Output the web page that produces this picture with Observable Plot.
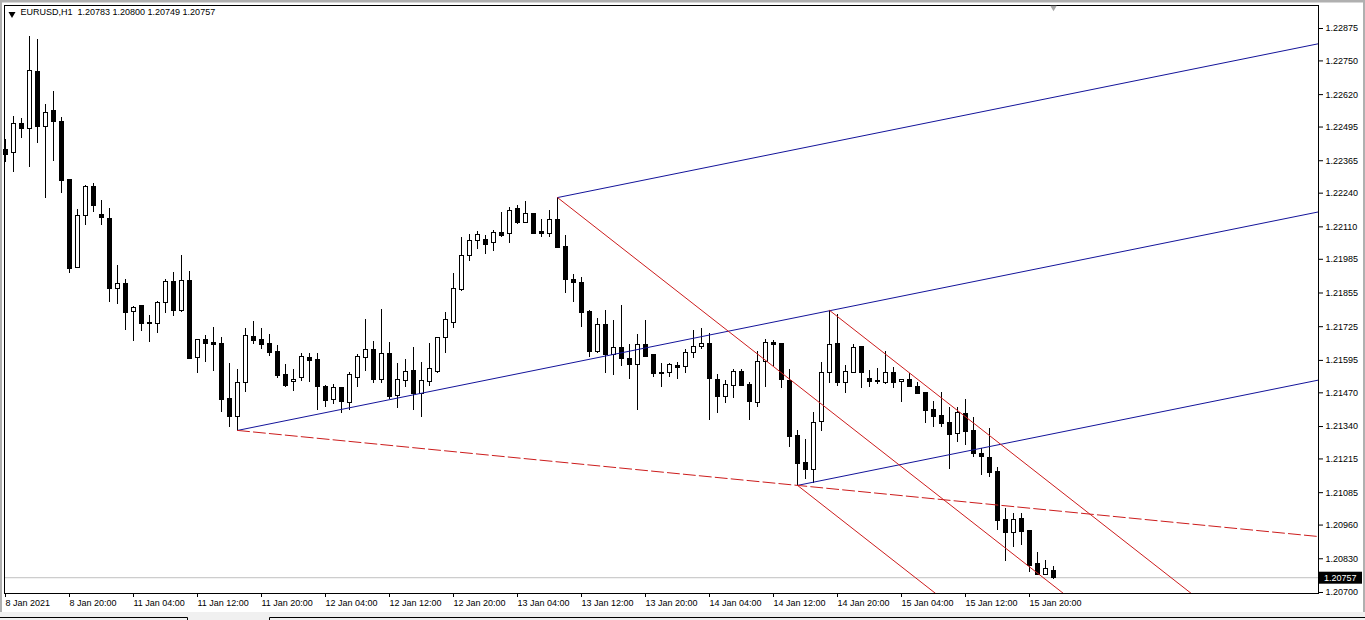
<!DOCTYPE html>
<html><head><meta charset="utf-8">
<script src="https://cdn.jsdelivr.net/npm/d3@7"></script>
<script src="https://cdn.jsdelivr.net/npm/@observablehq/plot@0.6"></script>
<style>
html,body{margin:0;padding:0;background:#fff;}
#chart{position:relative;width:1365px;height:620px;overflow:hidden;}
svg text{white-space:pre;}
</style></head><body><div id="chart"></div>
<script>
const symbol = "EURUSD,H1";
const open = [
1.22408,1.22393,1.22505,1.22486,1.22709,1.22497,1.22555,1.22516,1.22289,1.21953,
1.22150,1.22262,1.22154,1.22142,1.21872,1.21888,1.21780,1.21803,1.21734,1.21737,
1.21818,1.21899,1.21784,1.21903,1.21606,1.21672,1.21664,1.21660,1.21448,1.21375,
1.21506,1.21687,1.21672,1.21660,1.21629,1.21537,1.21510,1.21529,1.21606,1.21595,
1.21494,1.21444,1.21487,1.21429,1.21529,1.21606,1.21637,1.21521,1.21618,1.21456,
1.21514,1.21556,1.21467,1.21510,1.21552,1.21683,1.21741,1.21868,1.21996,1.22054,
1.22061,1.22046,1.22088,1.22081,1.22177,1.22123,1.22158,1.22092,1.22084,1.22138,
1.22034,1.21907,1.21895,1.21780,1.21626,1.21730,1.21614,1.21641,1.21599,1.21579,
1.21656,1.21614,1.21541,1.21545,1.21572,1.21568,1.21622,1.21645,1.21660,1.21521,
1.21452,1.21498,1.21552,1.21502,1.21429,1.21587,1.21664,1.21660,1.21514,1.21302,
1.21201,1.21174,1.21356,1.21545,1.21660,1.21506,1.21548,1.21645,1.21525,1.21514,
1.21506,1.21548,1.21510,1.21518,1.21494,1.21471,1.21402,1.21379,1.21352,1.21313,
1.21390,1.21321,1.21236,1.21217,1.21163,1.20978,1.20931,1.20982,1.20939,1.20808,
1.20769,1.20783];
const high = [
1.22447,1.22536,1.22528,1.22844,1.22833,1.22582,1.22632,1.22532,1.22293,1.22177,
1.22270,1.22277,1.22212,1.22181,1.21961,1.21907,1.21803,1.21807,1.21768,1.21822,
1.21907,1.21934,1.22000,1.21938,1.21676,1.21691,1.21722,1.21683,1.21583,1.21560,
1.21718,1.21745,1.21718,1.21695,1.21653,1.21579,1.21560,1.21622,1.21622,1.21622,
1.21498,1.21502,1.21491,1.21548,1.21618,1.21753,1.21668,1.21791,1.21664,1.21583,
1.21599,1.21645,1.21587,1.21660,1.21683,1.21780,1.21930,1.22069,1.22081,1.22092,
1.22077,1.22096,1.22165,1.22185,1.22192,1.22208,1.22162,1.22138,1.22173,1.22223,
1.22077,1.21926,1.21915,1.21788,1.21757,1.21788,1.21749,1.21807,1.21656,1.21695,
1.21749,1.21618,1.21583,1.21583,1.21587,1.21637,1.21710,1.21718,1.21699,1.21541,
1.21518,1.21560,1.21560,1.21510,1.21629,1.21676,1.21672,1.21660,1.21560,1.21325,
1.21290,1.21394,1.21587,1.21788,1.21772,1.21575,1.21656,1.21649,1.21556,1.21564,
1.21629,1.21568,1.21518,1.21545,1.21510,1.21471,1.21437,1.21471,1.21413,1.21413,
1.21444,1.21375,1.21255,1.21332,1.21182,1.21024,1.21005,1.21005,1.20939,1.20854,
1.20823,1.20800];
const low = [
1.22358,1.22320,1.22451,1.22339,1.22432,1.22219,1.22362,1.22239,1.21930,1.21953,
1.22115,1.22165,1.22115,1.21818,1.21811,1.21710,1.21668,1.21707,1.21664,1.21699,
1.21776,1.21764,1.21780,1.21599,1.21545,1.21587,1.21552,1.21394,1.21336,1.21325,
1.21471,1.21656,1.21637,1.21610,1.21525,1.21491,1.21475,1.21514,1.21510,1.21402,
1.21413,1.21425,1.21390,1.21402,1.21491,1.21552,1.21506,1.21506,1.21444,1.21410,
1.21491,1.21402,1.21375,1.21494,1.21545,1.21622,1.21718,1.21861,1.21976,1.22023,
1.22003,1.22015,1.22069,1.22046,1.22119,1.22123,1.22084,1.22069,1.22069,1.22027,
1.21853,1.21818,1.21722,1.21606,1.21622,1.21545,1.21537,1.21572,1.21521,1.21402,
1.21606,1.21529,1.21491,1.21529,1.21521,1.21545,1.21602,1.21637,1.21363,1.21390,
1.21429,1.21448,1.21494,1.21363,1.21413,1.21491,1.21572,1.21487,1.21259,1.21113,
1.21136,1.21120,1.21321,1.21506,1.21494,1.21467,1.21545,1.21487,1.21491,1.21502,
1.21502,1.21487,1.21433,1.21491,1.21467,1.21352,1.21336,1.21336,1.21174,1.21278,
1.21267,1.21221,1.21151,1.21143,1.20939,1.20820,1.20874,1.20881,1.20777,1.20766,
1.20769,1.20749];
const close = [
1.22389,1.22505,1.22486,1.22713,1.22497,1.22551,1.22513,1.22285,1.21949,1.22150,
1.22262,1.22189,1.22146,1.21872,1.21888,1.21776,1.21799,1.21734,1.21741,1.21818,
1.21899,1.21784,1.21903,1.21602,1.21672,1.21660,1.21656,1.21444,1.21375,1.21506,
1.21691,1.21668,1.21653,1.21622,1.21533,1.21498,1.21521,1.21610,1.21591,1.21491,
1.21440,1.21487,1.21433,1.21537,1.21610,1.21637,1.21518,1.21618,1.21452,1.21518,
1.21552,1.21467,1.21514,1.21560,1.21683,1.21749,1.21872,1.21996,1.22057,1.22077,
1.22042,1.22088,1.22073,1.22173,1.22123,1.22158,1.22084,1.22084,1.22138,1.22030,
1.21907,1.21892,1.21776,1.21629,1.21730,1.21614,1.21641,1.21599,1.21579,1.21653,
1.21610,1.21541,1.21548,1.21579,1.21564,1.21622,1.21645,1.21660,1.21525,1.21452,
1.21502,1.21552,1.21498,1.21433,1.21587,1.21664,1.21656,1.21518,1.21298,1.21197,
1.21174,1.21352,1.21548,1.21656,1.21506,1.21552,1.21641,1.21545,1.21510,1.21510,
1.21545,1.21506,1.21518,1.21491,1.21467,1.21398,1.21375,1.21348,1.21309,1.21394,
1.21317,1.21236,1.21221,1.21159,1.20974,1.20931,1.20978,1.20935,1.20804,1.20769,
1.20789,1.20757];

// time axis: one label every 8 hourly bars, first bar = 8 Jan 12:00
const timeLabels = ["8 Jan 2021","8 Jan 20:00","11 Jan 04:00","11 Jan 12:00","11 Jan 20:00",
  "12 Jan 04:00","12 Jan 12:00","12 Jan 20:00","13 Jan 04:00","13 Jan 12:00","13 Jan 20:00",
  "14 Jan 04:00","14 Jan 12:00","14 Jan 20:00","15 Jan 04:00","15 Jan 12:00","15 Jan 20:00"];
const labelEvery = 8;
const priceTicks = [1.22875,1.22750,1.22620,1.22495,1.22365,1.22240,1.22110,1.21985,1.21855,
  1.21725,1.21595,1.21470,1.21340,1.21215,1.21085,1.20960,1.20830,1.20700];

// pivot bars for the pitchforks / trendline
const pivotBars  = [29, 69, 99, 103];
const pivotSides = ["low", "high", "low", "high"];

const fmt = v => v.toFixed(5);
const bars = open.map((o, i) => ({i, o, h: high[i], l: low[i], c: close[i], up: close[i] >= o}));
const last = bars[bars.length - 1];

const W = 1365, H = 620;
const mL = 4, mR = 47, mT = 5, mB = 27;
const barStep = 8, firstCenter = 5;
const xDomain = [(mL - firstCenter) / barStep, (W - mR - firstCenter) / barStep];
const yDomain = [1.206961, 1.229637];

const piv = pivotBars.map((b, k) => ({x: b, y: pivotSides[k] === "low" ? low[b] : high[b]}));
const [A, B, D, C] = piv;

function ray(p0, slope, id) {
  let x1 = xDomain[1], y1 = p0.y + slope * (x1 - p0.x);
  if (y1 < yDomain[0]) { x1 = p0.x + (yDomain[0] - p0.y) / slope; y1 = yDomain[0]; }
  if (y1 > yDomain[1]) { x1 = p0.x + (yDomain[1] - p0.y) / slope; y1 = yDomain[1]; }
  return [{x: p0.x, y: p0.y, id}, {x: x1, y: y1, id}];
}
// blue pitchfork: handle A, tines B and D
const mBD = {x: (B.x + D.x) / 2, y: (B.y + D.y) / 2};
const sBlue = (mBD.y - A.y) / (mBD.x - A.x);
const blueLines = [...ray(A, sBlue, "m"), ...ray(B, sBlue, "u"), ...ray(D, sBlue, "l")];
// red pitchfork: handle B, tines C and D
const mCD = {x: (C.x + D.x) / 2, y: (C.y + D.y) / 2};
const sRed = (mCD.y - B.y) / (mCD.x - B.x);
const redLines = [...ray(B, sRed, "m"), ...ray(C, sRed, "u"), ...ray(D, sRed, "l")];
// red dashed trendline A -> D
const sDash = (D.y - A.y) / (D.x - A.x);
const dashLine = ray(A, sDash, "t");

const blue = "#14149a", red = "#cc1c1c";

const chart = Plot.plot({
  width: W, height: H,
  marginLeft: mL, marginRight: mR, marginTop: mT, marginBottom: mB,
  x: {domain: xDomain, axis: null},
  y: {domain: yDomain, axis: null},
  style: {fontFamily: "'Liberation Sans', Arial, sans-serif", fontSize: "9px", background: "#fff", color: "#000", overflow: "visible"},
  marks: [
    Plot.ruleY([last.c], {stroke: "#c0c0c0"}),
    Plot.ruleX(bars, {x: "i", y1: "l", y2: "h", stroke: "#000", shapeRendering: "crispEdges"}),
    Plot.rect(bars.filter(d => d.up), {x1: d => d.i - 0.25, x2: d => d.i + 0.25, y1: "o", y2: "c", fill: "#fff", stroke: "#000", shapeRendering: "crispEdges"}),
    Plot.rect(bars.filter(d => !d.up), {x1: d => d.i - 0.25, x2: d => d.i + 0.25, y1: "o", y2: "c", fill: "#000", stroke: "#000", shapeRendering: "crispEdges"}),
    Plot.line(blueLines, {x: "x", y: "y", z: "id", stroke: blue, strokeWidth: 1, clip: true}),
    Plot.line(redLines, {x: "x", y: "y", z: "id", stroke: red, strokeWidth: 1, clip: true}),
    Plot.line(dashLine, {x: "x", y: "y", stroke: red, strokeWidth: 1, strokeDasharray: "12,4", clip: true}),
    Plot.frame({stroke: "#000"}),
    Plot.axisY(priceTicks, {anchor: "right", tickSize: 4, tickPadding: 3, tickFormat: fmt, fontSize: 9, fill: "#000"}),
    Plot.axisX(timeLabels.map((_, k) => k * labelEvery), {anchor: "bottom", tickSize: 4, tickPadding: 2, tickFormat: d => timeLabels[d / labelEvery], textAnchor: "start", fontSize: 9, fill: "#000"}),
    Plot.text([`${symbol}  ${fmt(last.o)} ${fmt(last.h)} ${fmt(last.l)} ${fmt(last.c)}`], {frameAnchor: "top-left", text: d => d, dx: 16, dy: 3, textAnchor: "start", lineAnchor: "top", fontSize: 9, fill: "#000"}),
    Plot.dot([0], {frameAnchor: "top-left", dx: 7.5, dy: 8.5, symbol: "triangle", rotate: 180, r: 2.6, fill: "#000", stroke: "none"}),
    Plot.dot([last.i], {x: d => d, frameAnchor: "top", dy: 2, symbol: "triangle", rotate: 180, r: 2.4, fill: "#a8a8a8", stroke: "none"})
  ]
});
document.getElementById("chart").appendChild(chart);

// current price tag on the price scale
const svg = d3.select(chart);
const yp = chart.scale("y").apply(last.c);
svg.append("rect").attr("x", W - mR + 1).attr("y", yp - 5.5).attr("width", 43).attr("height", 12).attr("fill", "#000");
svg.append("text").attr("x", W - mR + 6).attr("y", yp + 0.5).attr("dominant-baseline", "central")
  .attr("text-anchor", "start").attr("fill", "#fff").attr("font-size", 9).text(fmt(last.c));
// window chrome
svg.append("rect").attr("x", 0).attr("y", 0).attr("width", W).attr("height", 2.5).attr("fill", "#b0b0b0");
svg.append("rect").attr("x", 0).attr("y", 0).attr("width", 2).attr("height", H).attr("fill", "#b0b0b0");
svg.append("rect").attr("x", W - 2).attr("y", 0).attr("width", 2).attr("height", H).attr("fill", "#b0b0b0");
svg.append("rect").attr("x", 0).attr("y", 612).attr("width", W).attr("height", 8).attr("fill", "#f0f0f0");
svg.append("path").attr("d", "M0,617.5H187.5V620M269.5,620V617.5H1365").attr("fill", "none").attr("stroke", "#000");
</script></body></html>
